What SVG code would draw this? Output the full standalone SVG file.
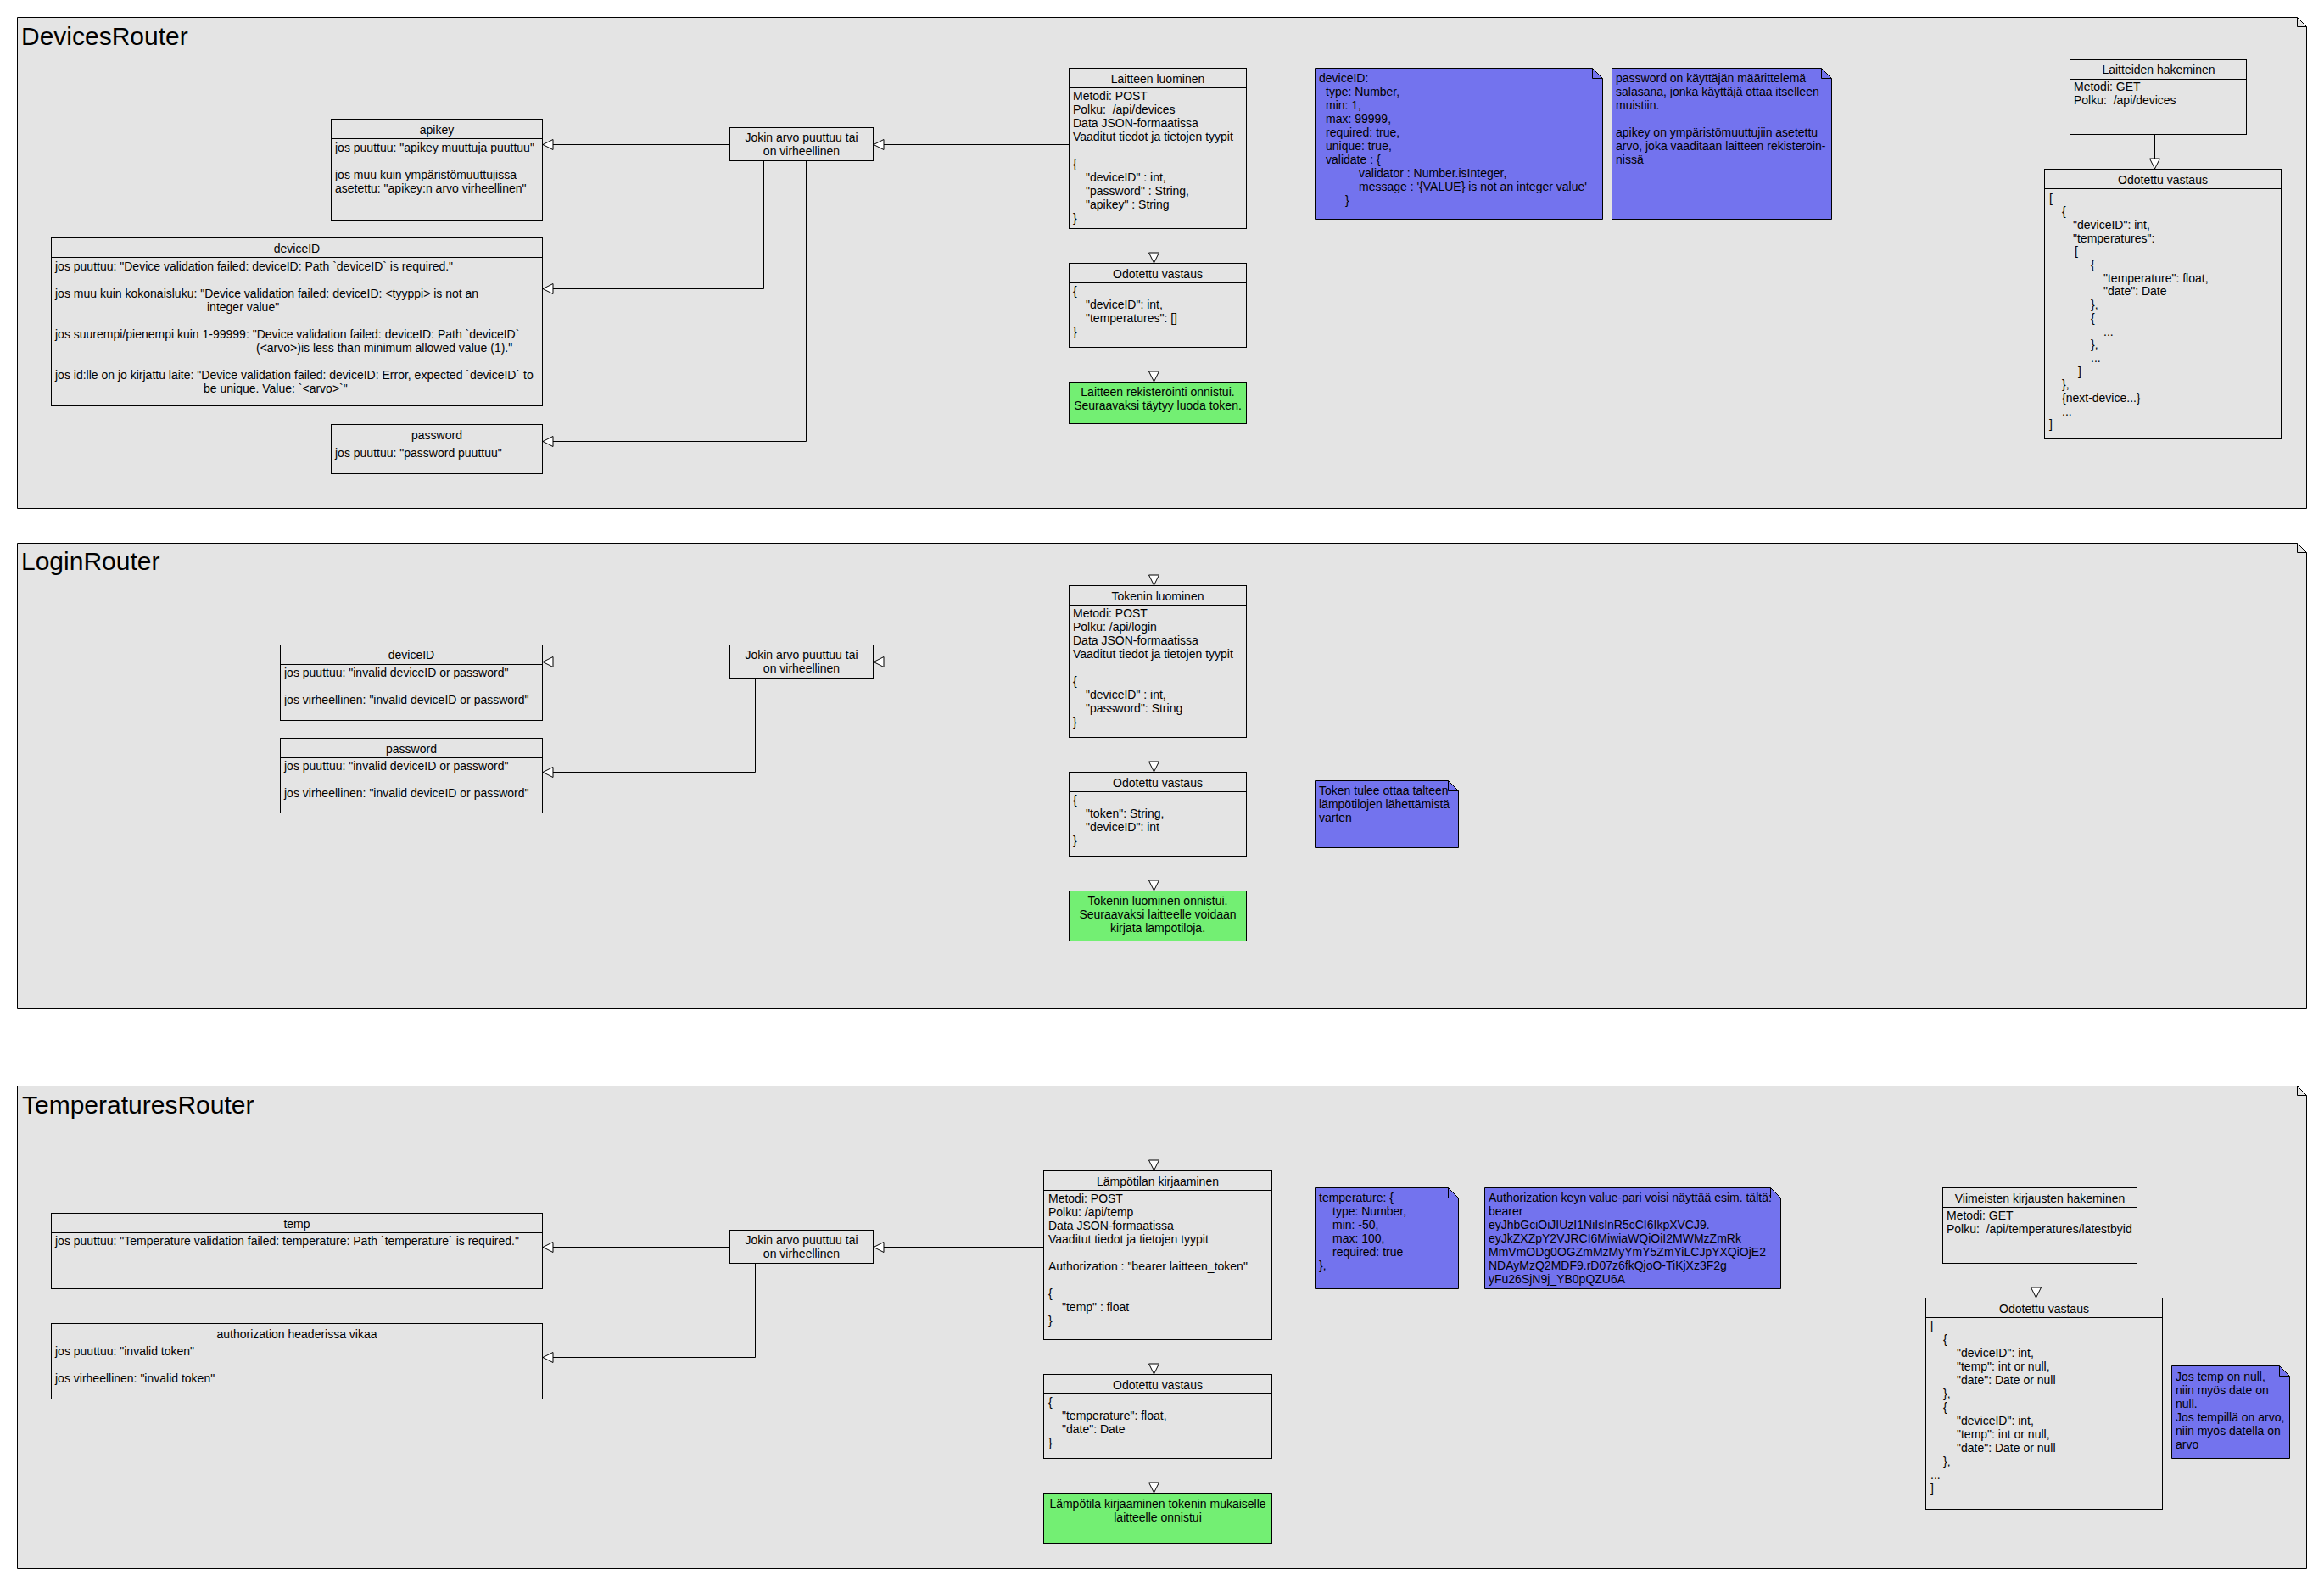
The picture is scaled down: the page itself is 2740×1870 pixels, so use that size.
<svg xmlns="http://www.w3.org/2000/svg" width="2740" height="1870" viewBox="0 0 2740 1870">
<style>
text{font-family:"Liberation Sans",Arial,sans-serif;font-size:14px;fill:#000}
.title{font-size:30px}
.c{text-anchor:middle}
.frame{fill:#e4e4e4;stroke:#000;stroke-width:1}
.box{fill:#e4e4e4;stroke:#000;stroke-width:1}
.note{fill:#7373ee;stroke:#000;stroke-width:1}
.green{fill:#73ef73;stroke:#000;stroke-width:1}
.ln{fill:none;stroke:#000;stroke-width:1}
.conn path{fill:none;stroke:#000;stroke-width:1;marker-end:url(#tri)}
</style>
<defs>
<marker id="tri" markerUnits="userSpaceOnUse" viewBox="0 0 14 14" markerWidth="14" markerHeight="14" refX="13" refY="7" orient="auto"><path d="M1,1 L13,7 L1,13 Z" fill="#fff" stroke="#000" stroke-width="1"/></marker>
</defs>
<rect width="2740" height="1870" fill="#fff"/>

<g id="frame-devices">
<path class="frame" d="M20.5,20.5 H2708.5 L2719.5,31.5 V599.5 H20.5 Z"/>
<path class="ln" d="M2708.5,20.5 V31.5 H2719.5"/>
<text class="title" x="25" y="53">DevicesRouter</text>
</g>
<g id="frame-login">
<path class="frame" d="M20.5,640.5 H2708.5 L2719.5,651.5 V1189.5 H20.5 Z"/>
<path class="ln" d="M2708.5,640.5 V651.5 H2719.5"/>
<text class="title" x="25" y="672">LoginRouter</text>
</g>
<g id="frame-temperatures">
<path class="frame" d="M20.5,1280.5 H2708.5 L2719.5,1291.5 V1849.5 H20.5 Z"/>
<path class="ln" d="M2708.5,1280.5 V1291.5 H2719.5"/>
<text class="title" x="26" y="1313">TemperaturesRouter</text>
</g>

<!-- Devices -->
<g id="dev-apikey">
<rect class="box" x="390.5" y="140.5" width="249" height="119"/>
<path class="ln" d="M390.5,163.5 H639.5"/>
<text class="c" x="515" y="158">apikey</text>
<text x="395" y="179">jos puuttuu: "apikey muuttuja puuttuu"</text>
<text x="395" y="211">jos muu kuin ympäristömuuttujissa</text>
<text x="395" y="227">asetettu: "apikey:n arvo virheellinen"</text>
</g>
<g id="dev-deviceid">
<rect class="box" x="60.5" y="280.5" width="579" height="198"/>
<path class="ln" d="M60.5,303.5 H639.5"/>
<text class="c" x="350" y="298">deviceID</text>
<text x="65" y="319">jos puuttuu: "Device validation failed: deviceID: Path `deviceID` is required."</text>
<text x="65" y="351">jos muu kuin kokonaisluku: "Device validation failed: deviceID: &lt;tyyppi&gt; is not an</text>
<text x="244" y="367">integer value"</text>
<text x="65" y="399">jos suurempi/pienempi kuin 1-99999: "Device validation failed: deviceID: Path `deviceID`</text>
<text x="302" y="415">(&lt;arvo&gt;)is less than minimum allowed value (1)."</text>
<text x="65" y="447">jos id:lle on jo kirjattu laite: "Device validation failed: deviceID: Error, expected `deviceID` to</text>
<text x="240" y="463">be unique. Value: `&lt;arvo&gt;`"</text>
</g>
<g id="dev-password">
<rect class="box" x="390.5" y="500.5" width="249" height="58"/>
<path class="ln" d="M390.5,523.5 H639.5"/>
<text class="c" x="515" y="518">password</text>
<text x="395" y="539">jos puuttuu: "password puuttuu"</text>
</g>
<g id="dev-error">
<rect class="box" x="860.5" y="150.5" width="169" height="39"/>
<text class="c" x="945" y="167">Jokin arvo puuttuu tai</text>
<text class="c" x="945" y="183">on virheellinen</text>
</g>
<g id="dev-create">
<rect class="box" x="1260.5" y="80.5" width="209" height="189"/>
<path class="ln" d="M1260.5,103.5 H1469.5"/>
<text class="c" x="1365" y="98">Laitteen luominen</text>
<text x="1265" y="118">Metodi: POST</text>
<text x="1265" y="134" xml:space="preserve">Polku:  /api/devices</text>
<text x="1265" y="150">Data JSON-formaatissa</text>
<text x="1265" y="166">Vaaditut tiedot ja tietojen tyypit</text>
<text x="1265" y="198">{</text>
<text x="1280" y="214">"deviceID" : int,</text>
<text x="1280" y="230">"password" : String,</text>
<text x="1280" y="246">"apikey" : String</text>
<text x="1265" y="262">}</text>
</g>
<g id="dev-response">
<rect class="box" x="1260.5" y="310.5" width="209" height="99"/>
<path class="ln" d="M1260.5,333.5 H1469.5"/>
<text class="c" x="1365" y="328">Odotettu vastaus</text>
<text x="1265" y="348">{</text>
<text x="1280" y="364">"deviceID": int,</text>
<text x="1280" y="380">"temperatures": []</text>
<text x="1265" y="396">}</text>
</g>
<g id="dev-success">
<rect class="green" x="1260.5" y="450.5" width="209" height="49"/>
<text class="c" x="1365" y="467">Laitteen rekisteröinti onnistui.</text>
<text class="c" x="1365" y="483">Seuraavaksi täytyy luoda token.</text>
</g>
<g id="dev-note-deviceid">
<path class="note" d="M1550.5,80.5 H1877.5 L1889.5,92.5 V258.5 H1550.5 Z"/>
<path class="ln" d="M1877.5,80.5 V92.5 H1889.5"/>
<text x="1555" y="97">deviceID:</text>
<text x="1563" y="113">type: Number,</text>
<text x="1563" y="129">min: 1,</text>
<text x="1563" y="145">max: 99999,</text>
<text x="1563" y="161">required: true,</text>
<text x="1563" y="177">unique: true,</text>
<text x="1563" y="193">validate : {</text>
<text x="1602" y="209">validator : Number.isInteger,</text>
<text x="1602" y="225">message : '{VALUE} is not an integer value'</text>
<text x="1586" y="241">}</text>
</g>
<g id="dev-note-password">
<path class="note" d="M1900.5,80.5 H2147.5 L2159.5,92.5 V258.5 H1900.5 Z"/>
<path class="ln" d="M2147.5,80.5 V92.5 H2159.5"/>
<text x="1905" y="97">password on käyttäjän määrittelemä</text>
<text x="1905" y="113">salasana, jonka käyttäjä ottaa itselleen</text>
<text x="1905" y="129">muistiin.</text>
<text x="1905" y="161">apikey on ympäristömuuttujiin asetettu</text>
<text x="1905" y="177">arvo, joka vaaditaan laitteen rekisteröin-</text>
<text x="1905" y="193">nissä</text>
</g>
<g id="dev-list">
<rect class="box" x="2440.5" y="70.5" width="208" height="88"/>
<path class="ln" d="M2440.5,93.5 H2648.5"/>
<text class="c" x="2545" y="87">Laitteiden hakeminen</text>
<text x="2445" y="107">Metodi: GET</text>
<text x="2445" y="123" xml:space="preserve">Polku:  /api/devices</text>
</g>
<g id="dev-list-response">
<rect class="box" x="2410.5" y="199.5" width="279" height="318"/>
<path class="ln" d="M2410.5,222.5 H2689.5"/>
<text class="c" x="2550" y="217">Odotettu vastaus</text>
<text x="2416" y="238.5">[</text>
<text x="2431" y="254.2">{</text>
<text x="2444" y="269.9">"deviceID": int,</text>
<text x="2444" y="285.6">"temperatures":</text>
<text x="2446" y="301.3">[</text>
<text x="2465" y="317">{</text>
<text x="2480" y="332.7">"temperature": float,</text>
<text x="2480" y="348.4">"date": Date</text>
<text x="2465" y="364.1">},</text>
<text x="2465" y="379.8">{</text>
<text x="2480" y="395.5">...</text>
<text x="2465" y="411.2">},</text>
<text x="2465" y="426.9">...</text>
<text x="2450" y="442.6">]</text>
<text x="2431" y="458.3">},</text>
<text x="2431" y="474">{next-device...}</text>
<text x="2431" y="489.7">...</text>
<text x="2416" y="505.4">]</text>
</g>

<!-- Login -->
<g id="login-deviceid">
<rect class="box" x="330.5" y="760.5" width="309" height="89"/>
<path class="ln" d="M330.5,783.5 H639.5"/>
<text class="c" x="485" y="777">deviceID</text>
<text x="335" y="798">jos puuttuu: "invalid deviceID or password"</text>
<text x="335" y="830">jos virheellinen: "invalid deviceID or password"</text>
</g>
<g id="login-password">
<rect class="box" x="330.5" y="870.5" width="309" height="88"/>
<path class="ln" d="M330.5,893.5 H639.5"/>
<text class="c" x="485" y="888">password</text>
<text x="335" y="908">jos puuttuu: "invalid deviceID or password"</text>
<text x="335" y="940">jos virheellinen: "invalid deviceID or password"</text>
</g>
<g id="login-error">
<rect class="box" x="860.5" y="760.5" width="169" height="39"/>
<text class="c" x="945" y="777">Jokin arvo puuttuu tai</text>
<text class="c" x="945" y="793">on virheellinen</text>
</g>
<g id="login-create">
<rect class="box" x="1260.5" y="690.5" width="209" height="179"/>
<path class="ln" d="M1260.5,713.5 H1469.5"/>
<text class="c" x="1365" y="708">Tokenin luominen</text>
<text x="1265" y="728">Metodi: POST</text>
<text x="1265" y="744">Polku: /api/login</text>
<text x="1265" y="760">Data JSON-formaatissa</text>
<text x="1265" y="776">Vaaditut tiedot ja tietojen tyypit</text>
<text x="1265" y="808">{</text>
<text x="1280" y="824">"deviceID" : int,</text>
<text x="1280" y="840">"password": String</text>
<text x="1265" y="856">}</text>
</g>
<g id="login-response">
<rect class="box" x="1260.5" y="910.5" width="209" height="99"/>
<path class="ln" d="M1260.5,933.5 H1469.5"/>
<text class="c" x="1365" y="928">Odotettu vastaus</text>
<text x="1265" y="948">{</text>
<text x="1280" y="964">"token": String,</text>
<text x="1280" y="980">"deviceID": int</text>
<text x="1265" y="996">}</text>
</g>
<g id="login-success">
<rect class="green" x="1260.5" y="1050.5" width="209" height="59"/>
<text class="c" x="1365" y="1067">Tokenin luominen onnistui.</text>
<text class="c" x="1365" y="1083">Seuraavaksi laitteelle voidaan</text>
<text class="c" x="1365" y="1099">kirjata lämpötiloja.</text>
</g>
<g id="login-note">
<path class="note" d="M1550.5,920.5 H1707.5 L1719.5,932.5 V999.5 H1550.5 Z"/>
<path class="ln" d="M1707.5,920.5 V932.5 H1719.5"/>
<text x="1555" y="937">Token tulee ottaa talteen</text>
<text x="1555" y="953">lämpötilojen lähettämistä</text>
<text x="1555" y="969">varten</text>
</g>

<!-- Temperatures -->
<g id="temp-temp">
<rect class="box" x="60.5" y="1430.5" width="579" height="89"/>
<path class="ln" d="M60.5,1453.5 H639.5"/>
<text class="c" x="350" y="1448">temp</text>
<text x="65" y="1468">jos puuttuu: "Temperature validation failed: temperature: Path `temperature` is required."</text>
</g>
<g id="temp-auth">
<rect class="box" x="60.5" y="1560.5" width="579" height="89"/>
<path class="ln" d="M60.5,1583.5 H639.5"/>
<text class="c" x="350" y="1578">authorization headerissa vikaa</text>
<text x="65" y="1598">jos puuttuu: "invalid token"</text>
<text x="65" y="1630">jos virheellinen: "invalid token"</text>
</g>
<g id="temp-error">
<rect class="box" x="860.5" y="1450.5" width="169" height="39"/>
<text class="c" x="945" y="1467">Jokin arvo puuttuu tai</text>
<text class="c" x="945" y="1483">on virheellinen</text>
</g>
<g id="temp-create">
<rect class="box" x="1230.5" y="1380.5" width="269" height="199"/>
<path class="ln" d="M1230.5,1403.5 H1499.5"/>
<text class="c" x="1365" y="1398">Lämpötilan kirjaaminen</text>
<text x="1236" y="1418">Metodi: POST</text>
<text x="1236" y="1434">Polku: /api/temp</text>
<text x="1236" y="1450">Data JSON-formaatissa</text>
<text x="1236" y="1466">Vaaditut tiedot ja tietojen tyypit</text>
<text x="1236" y="1498">Authorization : "bearer laitteen_token"</text>
<text x="1236" y="1530">{</text>
<text x="1252" y="1546">"temp" : float</text>
<text x="1236" y="1562">}</text>
</g>
<g id="temp-response">
<rect class="box" x="1230.5" y="1620.5" width="269" height="99"/>
<path class="ln" d="M1230.5,1643.5 H1499.5"/>
<text class="c" x="1365" y="1638">Odotettu vastaus</text>
<text x="1236" y="1658">{</text>
<text x="1252" y="1674">"temperature": float,</text>
<text x="1252" y="1690">"date": Date</text>
<text x="1236" y="1706">}</text>
</g>
<g id="temp-success">
<rect class="green" x="1230.5" y="1760.5" width="269" height="59"/>
<text class="c" x="1365" y="1778">Lämpötila kirjaaminen tokenin mukaiselle</text>
<text class="c" x="1365" y="1794">laitteelle onnistui</text>
</g>
<g id="temp-note-temperature">
<path class="note" d="M1550.5,1400.5 H1707.5 L1719.5,1412.5 V1519.5 H1550.5 Z"/>
<path class="ln" d="M1707.5,1400.5 V1412.5 H1719.5"/>
<text x="1555" y="1417">temperature: {</text>
<text x="1571" y="1433">type: Number,</text>
<text x="1571" y="1449">min: -50,</text>
<text x="1571" y="1465">max: 100,</text>
<text x="1571" y="1481">required: true</text>
<text x="1555" y="1497">},</text>
</g>
<g id="temp-note-auth">
<path class="note" d="M1750.5,1400.5 H2087.5 L2099.5,1412.5 V1519.5 H1750.5 Z"/>
<path class="ln" d="M2087.5,1400.5 V1412.5 H2099.5"/>
<text x="1755" y="1417">Authorization keyn value-pari voisi näyttää esim. tältä:</text>
<text x="1755" y="1433">bearer</text>
<text x="1755" y="1449">eyJhbGciOiJIUzI1NiIsInR5cCI6IkpXVCJ9.</text>
<text x="1755" y="1465">eyJkZXZpY2VJRCI6MiwiaWQiOiI2MWMzZmRk</text>
<text x="1755" y="1481">MmVmODg0OGZmMzMyYmY5ZmYiLCJpYXQiOjE2</text>
<text x="1755" y="1497">NDAyMzQ2MDF9.rD07z6fkQjoO-TiKjXz3F2g</text>
<text x="1755" y="1513">yFu26SjN9j_YB0pQZU6A</text>
</g>
<g id="temp-latest">
<rect class="box" x="2290.5" y="1400.5" width="229" height="89"/>
<path class="ln" d="M2290.5,1423.5 H2519.5"/>
<text class="c" x="2405" y="1418">Viimeisten kirjausten hakeminen</text>
<text x="2295" y="1438">Metodi: GET</text>
<text x="2295" y="1454" xml:space="preserve">Polku:  /api/temperatures/latestbyid</text>
</g>
<g id="temp-latest-response">
<rect class="box" x="2270.5" y="1530.5" width="279" height="249"/>
<path class="ln" d="M2270.5,1553.5 H2549.5"/>
<text class="c" x="2410" y="1548">Odotettu vastaus</text>
<text x="2276" y="1568">[</text>
<text x="2291" y="1584">{</text>
<text x="2307" y="1600">"deviceID": int,</text>
<text x="2307" y="1616">"temp": int or null,</text>
<text x="2307" y="1632">"date": Date or null</text>
<text x="2291" y="1648">},</text>
<text x="2291" y="1664">{</text>
<text x="2307" y="1680">"deviceID": int,</text>
<text x="2307" y="1696">"temp": int or null,</text>
<text x="2307" y="1712">"date": Date or null</text>
<text x="2291" y="1728">},</text>
<text x="2276" y="1744">...</text>
<text x="2276" y="1760">]</text>
</g>
<g id="temp-note-null">
<path class="note" d="M2560.5,1610.5 H2687.5 L2699.5,1622.5 V1719.5 H2560.5 Z"/>
<path class="ln" d="M2687.5,1610.5 V1622.5 H2699.5"/>
<text x="2565" y="1628">Jos temp on null,</text>
<text x="2565" y="1644">niin myös date on</text>
<text x="2565" y="1660">null.</text>
<text x="2565" y="1676">Jos tempillä on arvo,</text>
<text x="2565" y="1692">niin myös datella on</text>
<text x="2565" y="1708">arvo</text>
</g>

<g id="connectors" class="conn">
<path d="M1260.5,170.5 H1030"/>
<path d="M860.5,170.5 H640"/>
<path d="M900.5,189.5 V340.5 H640"/>
<path d="M950.5,189.5 V520.5 H640"/>
<path d="M1360.5,269.5 V310"/>
<path d="M1360.5,409.5 V450"/>
<path d="M1360.5,499.5 V690"/>
<path d="M2540.5,158.5 V199"/>
<path d="M1260.5,780.5 H1030"/>
<path d="M860.5,780.5 H640"/>
<path d="M890.5,799.5 V910.5 H640"/>
<path d="M1360.5,869.5 V910"/>
<path d="M1360.5,1009.5 V1050"/>
<path d="M1360.5,1109.5 V1380"/>
<path d="M1230.5,1470.5 H1030"/>
<path d="M860.5,1470.5 H640"/>
<path d="M890.5,1489.5 V1600.5 H640"/>
<path d="M1360.5,1579.5 V1620"/>
<path d="M1360.5,1719.5 V1760"/>
<path d="M2400.5,1489.5 V1530"/>
</g>
</svg>
